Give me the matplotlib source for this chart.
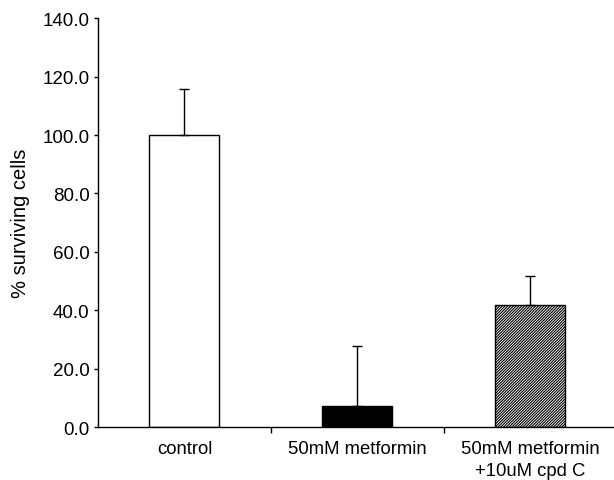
import matplotlib
matplotlib.use('Agg')
import matplotlib.pyplot as plt
import numpy as np

plt.rcParams['font.family'] = ['Liberation Sans', 'DejaVu Sans']
plt.rcParams['hatch.linewidth'] = 0.8

# data
grupos = ['control', '50mM metformin', '50mM metformin\n+10uM cpd C']
media = [100.0, 7.1, 41.8]
erro = [15.8, 20.6, 9.8]
cores = ['white', 'black', 'white']
hachuras = ['', '', '////////////']

x = np.arange(len(grupos))

fig = plt.figure(figsize=(6.14, 4.81), dpi=100)
ax = fig.add_axes([0.1596, 0.110, 0.845, 0.850])

for i in range(len(grupos)):
    ax.bar(x[i], media[i], width=0.405, color=cores[i], edgecolor='black',
           linewidth=1.0, hatch=hachuras[i], zorder=2)
    ax.errorbar(x[i], media[i], yerr=[[0], [erro[i]]], fmt='none',
                ecolor='black', elinewidth=1.0, capsize=3.5, capthick=1.0, zorder=3)

ax.set_xlim(-0.5, 2.5)
ax.set_ylim(0, 140)
ax.set_yticks(np.arange(0, 141, 20))
ax.set_yticklabels(['%.1f' % v for v in np.arange(0, 141, 20)], fontsize=13.5)
ax.set_ylabel('% surviving cells', fontsize=14.5, labelpad=9)

ax.set_xticks(x)
ax.set_xticklabels(grupos, fontsize=13.3, va='top', linespacing=1.4)
ax.set_xticks([0.5, 1.5, 2.5], minor=True)
ax.tick_params(axis='x', which='major', length=0, pad=9)
ax.tick_params(axis='x', which='minor', length=4, direction='out', width=1)
ax.tick_params(axis='y', length=3, width=1, direction='out', pad=3)

for lado in ['top', 'right']:
    ax.spines[lado].set_visible(False)
ax.spines['left'].set_linewidth(1.0)
ax.spines['bottom'].set_linewidth(1.0)

fig.savefig('out.png', dpi=100)
